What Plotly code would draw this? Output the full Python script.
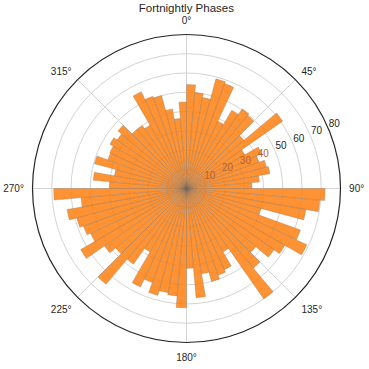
import plotly.graph_objects as go

# 72 bins of 5 degrees, counts (clockwise from north)
bin_width = 5
bin_starts = list(range(0, 360, bin_width))
counts_q1 = [54, 50, 48, 59, 58, 38.5, 47, 50.5, 49.5, 39, 61, 35, 43, 40, 43, 44, 38, 34]
counts_q2 = [72, 69.5, 63, 40, 63, 69, 59, 55.5, 47, 54, 70, 38, 46.5, 48, 50, 45, 57, 41.5]
counts_q3 = [62, 56, 55, 57.5, 52, 56.5, 38, 48, 65, 48, 52, 63.5, 55, 57, 59, 63, 55, 69]
counts_q4 = [40, 48.6, 38, 49.5, 43.5, 44, 46, 44, 46.5, 40, 40, 38, 55.5, 51, 50, 42, 36.5, 45]
counts = counts_q1 + counts_q2 + counts_q3 + counts_q4
theta_centers = [s + bin_width / 2 for s in bin_starts]

angle_ticks = [0, 45, 90, 135, 180, 225, 270, 315]
angle_labels = [f"{a}°" for a in angle_ticks]
radial_ticks = [10, 20, 30, 40, 50, 60, 70, 80]
radial_label_theta = 67.5  # direction of the radial tick labels (22.5° above horizontal)

txt = "#262626"
txt_under_bar = "#b9622c"   # label seen through the translucent orange bar

# labels that sit under the bar at the label direction look tinted
bar_at_labels = counts[int(radial_label_theta // bin_width)]
label_colors = [txt_under_bar if v <= bar_at_labels else txt for v in radial_ticks]

fig = go.Figure()
fig.add_trace(go.Barpolar(
    r=counts,
    theta=theta_centers,
    width=[bin_width] * len(counts),
    marker=dict(color="rgba(255,127,14,0.85)",
                line=dict(color="rgba(110,110,110,0.45)", width=0.6)),
    hoverinfo="r+theta",
))
fig.add_trace(go.Scatterpolar(
    r=radial_ticks,
    theta=[radial_label_theta] * len(radial_ticks),
    mode="text",
    text=[str(v) for v in radial_ticks],
    textposition="top right",
    textfont=dict(size=10, color=label_colors, family="Liberation Sans, Arial, sans-serif"),
    cliponaxis=False,
    hoverinfo="skip",
))

fig.update_layout(
    width=369, height=369,
    margin=dict(l=0, r=0, t=0, b=0),
    paper_bgcolor="white",
    showlegend=False,
    font=dict(family="Liberation Sans, Arial, sans-serif", size=10, color=txt),
    title=dict(text="Fortnightly Phases", x=0.505, xanchor="center", y=0.978, yanchor="middle",
               font=dict(size=11.5, color=txt)),
    polar=dict(
        domain=dict(x=[32.5 / 369, 340.5 / 369], y=[(369 - 342.5) / 369, (369 - 34.5) / 369]),
        bgcolor="white",
        bargap=0,
        angularaxis=dict(
            rotation=90, direction="clockwise",
            tickmode="array", tickvals=angle_ticks, ticktext=angle_labels,
            showline=True, linecolor="#262626", linewidth=1.2,
            gridcolor="#d4d4d4", gridwidth=1,
            ticks="outside", ticklen=6, tickcolor="rgba(0,0,0,0)",
            tickfont=dict(size=10, color=txt),
        ),
        radialaxis=dict(
            range=[0, 80], tickmode="array", tickvals=radial_ticks,
            showticklabels=False, showline=False, ticks="",
            gridcolor="#d4d4d4", gridwidth=1,
        ),
    ),
)

fig.write_html("out.html")
